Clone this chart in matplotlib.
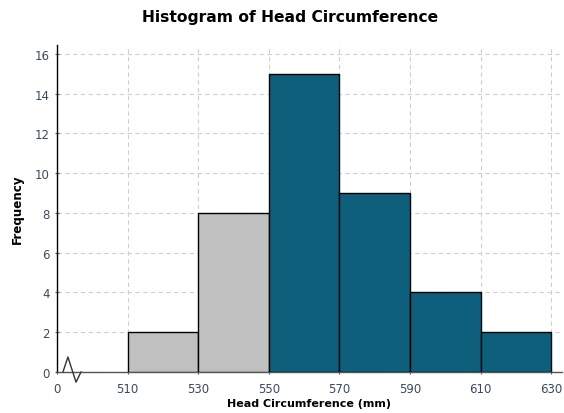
import matplotlib
matplotlib.use('Agg')
import matplotlib.pyplot as plt
import matplotlib.transforms as mtransforms

# --- dati ---
bin_edges = [510, 530, 550, 570, 590, 610, 630]
counts = [2, 8, 15, 9, 4, 2]
bar_colors = ['#c0c0c0', '#c0c0c0', '#0d5f7b', '#0d5f7b', '#0d5f7b', '#0d5f7b']
x_ticks = [490, 510, 530, 550, 570, 590, 610, 630]
x_tick_labels = ['0', '510', '530', '550', '570', '590', '610', '630']
y_ticks = [0, 2, 4, 6, 8, 10, 12, 14, 16]

tick_col = '#3b4a5e'

fig = plt.figure(figsize=(5.64, 4.14), dpi=100)
ax = fig.add_axes([0.101, 0.099, 0.895, 0.790])

lefts = bin_edges[:-1]
widths = [b - a for a, b in zip(bin_edges[:-1], bin_edges[1:])]
ax.bar(lefts, counts, width=widths, align='edge', color=bar_colors,
       edgecolor='black', linewidth=1.0, zorder=3)

ax.set_xlim(490, 633)
ax.set_ylim(0, 16.45)
ax.set_xticks(x_ticks)
ax.set_xticklabels(x_tick_labels)
ax.set_yticks(y_ticks)

ax.grid(True, linestyle=(0, (4, 3)), color='#cfcfcf', linewidth=0.8, zorder=0)
for s in ['top', 'right']:
    ax.spines[s].set_visible(False)
ax.spines['left'].set_color('black')
ax.spines['left'].set_linewidth(1.0)
ax.spines['bottom'].set_color('#555555')
ax.spines['bottom'].set_linewidth(1.0)

ax.tick_params(axis='both', labelsize=8.5, labelcolor=tick_col, length=3,
               color='#555555', direction='inout')
ax.tick_params(axis='x', pad=6)

# simbolo di interruzione asse
trans = mtransforms.blended_transform_factory(ax.transData, ax.transAxes)
ax.plot([491.7, 493.1, 495.4, 496.8], [0.0, 0.046, -0.031, 0.0],
        color='#333333', linewidth=1.0, transform=trans, clip_on=False, zorder=5)

ax.set_xlabel('Head Circumference (mm)', fontsize=8, fontweight='bold', labelpad=2)
ax.set_ylabel('Frequency', fontsize=8.6, fontweight='bold', labelpad=8)
fig.suptitle('Histogram of Head Circumference', fontsize=11.2, fontweight='bold',
             x=0.515, y=0.975)

fig.savefig('out.png', dpi=100)
